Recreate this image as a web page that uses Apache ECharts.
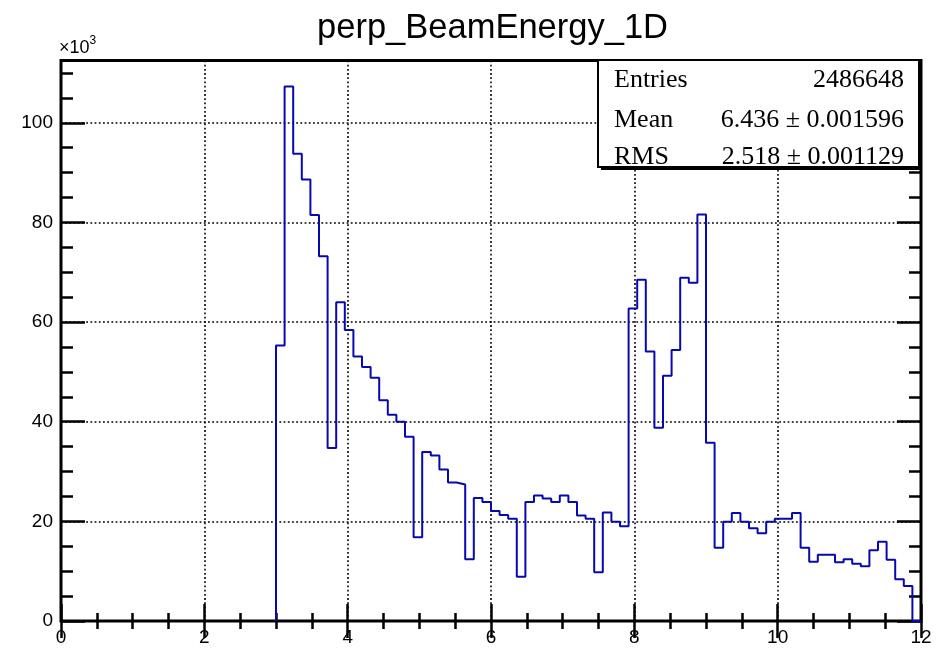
<!DOCTYPE html>
<html>
<head>
<meta charset="utf-8">
<script src="https://cdn.jsdelivr.net/npm/echarts@6/dist/echarts.min.js"></script>
<style>
html,body{margin:0;padding:0;background:#fff;}
#chart{width:946px;height:648px;}
</style>
</head>
<body>
<div id="chart"></div>
<script>
// ---- data (counts in thousands, bins of width 0.12 starting at 3.0) ----
const titleText = 'perp_BeamEnergy_1D';
const xStart = 3.0;
const binWidth = 0.12;
const countsK = [
  55.3, 107.3, 93.8, 88.6, 81.5, 73.2, 34.7, 64.0, 58.4, 53.1,
  51.0, 48.8, 44.3, 41.4, 40.0, 37.0, 16.8, 33.9, 33.2, 30.4,
  27.8, 27.4, 12.4, 24.7, 23.9, 22.1, 21.3, 20.5, 8.9, 23.9,
  25.2, 24.6, 23.9, 25.2, 23.9, 21.2, 20.5, 9.8, 21.8, 19.9,
  19.0, 62.7, 68.5, 54.1, 38.8, 49.2, 54.4, 68.9, 67.9, 81.6,
  35.8, 14.7, 19.9, 21.7, 19.9, 18.6, 17.6, 19.9, 20.5, 20.5,
  21.7, 14.7, 11.9, 13.3, 13.3, 11.8, 12.4, 11.5, 11.0, 14.2,
  15.9, 12.3, 8.4, 7.0, 0
];
const xTickLabels = ['0', '2', '4', '6', '8', '10', '12'];
const yTickLabels = ['0', '20', '40', '60', '80', '100'];
const yExponentLabel = '×10';
const statsRows = [
  ['Entries', '2486648'],
  ['Mean', '6.436 ± 0.001596'],
  ['RMS', '2.518 ± 0.001129']
];

// ---- build step outline ----
const pts = [[xStart, 0]];
for (let i = 0; i < countsK.length; i++) {
  pts.push([+(xStart + i * binWidth).toFixed(6), countsK[i]]);
}
pts.push([+(xStart + countsK.length * binWidth).toFixed(6), 0]);

const chart = echarts.init(document.getElementById('chart'), null, {renderer: 'canvas'});
const AX = '#000';
const labelFont = {fontFamily: 'Liberation Sans', fontSize: 19, color: '#000'};
const dotted = {type: [1.8, 2.4], color: '#000', width: 1.6};

function xAx(pos, withLabels) {
  return {
    type: 'value', position: pos, min: 0, max: 12, interval: 2,
    axisLine: {show: false},
    axisTick: {show: true, inside: true, length: 17, lineStyle: {color: AX, width: 2.5}},
    minorTick: {show: true, splitNumber: 4, length: 8, lineStyle: {color: AX, width: 2.5}},
    axisLabel: withLabels ? Object.assign({show: true, margin: 7,
      formatter: v => xTickLabels[Math.round(v / 2)] || ''}, labelFont) : {show: false},
    splitLine: {show: withLabels, lineStyle: dotted},
    minorSplitLine: {show: false}
  };
}
function yAx(pos, interval, len, withLabels, grid) {
  return {
    type: 'value', position: pos, min: 0, max: 112.5, interval: interval,
    axisLine: {show: false},
    axisTick: {show: true, inside: true, length: len, lineStyle: {color: AX, width: 2.5}},
    axisLabel: withLabels ? Object.assign({show: true, margin: 8, showMaxLabel: false,
      formatter: v => (v % 20 === 0 ? (yTickLabels[v / 20] || '') : '')}, labelFont) : {show: false},
    splitLine: {show: grid, lineStyle: dotted}
  };
}

const rowY = [80.5, 120, 157];
const option = {
  animation: false,
  backgroundColor: '#fff',
  grid: {left: 61, right: 25, top: 60.5, bottom: 27, show: true,
         borderColor: '#000', borderWidth: 3, backgroundColor: 'transparent'},
  xAxis: [xAx('bottom', true), xAx('top', false)],
  yAxis: [
    yAx('left', 20, 24, true, true),
    yAx('left', 5, 12, false, false),
    yAx('right', 20, 24, false, false),
    yAx('right', 5, 12, false, false)
  ],
  series: [{
    type: 'line', step: 'end', data: pts, xAxisIndex: 0, yAxisIndex: 0,
    symbol: 'none', clip: true,
    lineStyle: {color: '#0808b0', width: 2}
  }],
  graphic: [
    {type: 'text', x: 492.5, y: 28,
     style: {text: titleText, fontFamily: 'Liberation Sans', fontSize: 34.5, fill: '#000',
             textAlign: 'center', textVerticalAlign: 'middle'}},
    {type: 'text', x: 59, y: 57,
     style: {text: '{a|' + yExponentLabel + '}{b|3}', textVerticalAlign: 'bottom',
       rich: {a: {fontFamily: 'Liberation Sans', fontSize: 18, fill: '#000', verticalAlign: 'bottom'},
              b: {fontFamily: 'Liberation Sans', fontSize: 12, fill: '#000', verticalAlign: 'top', padding: [0, 0, 10, 0]}}}},
    {type: 'rect', z: 100, shape: {x: 601, y: 63, width: 321, height: 107}, style: {fill: '#000'}},
    {type: 'rect', z: 101, shape: {x: 598, y: 60, width: 321, height: 107},
     style: {fill: '#fff', stroke: '#000', lineWidth: 2}},
  ].concat(statsRows.flatMap((r, i) => [
    {type: 'text', z: 102, x: 614, y: rowY[i],
     style: {text: r[0], fontFamily: 'Liberation Serif', fontSize: 26, fill: '#000', textVerticalAlign: 'middle'}},
    {type: 'text', z: 102, x: 904, y: rowY[i],
     style: {text: r[1], fontFamily: 'Liberation Serif', fontSize: 26, fill: '#000', textAlign: 'right', textVerticalAlign: 'middle'}}
  ]))
};
chart.setOption(option);
</script>
</body>
</html>
